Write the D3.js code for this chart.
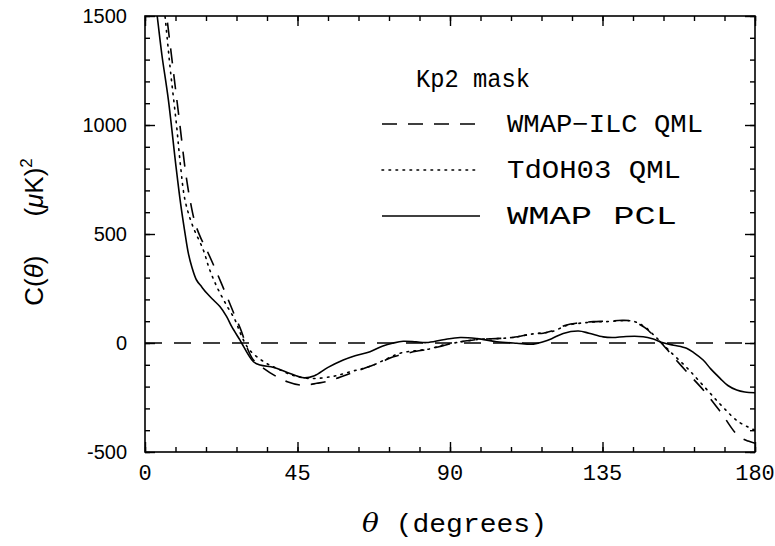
<!DOCTYPE html>
<html>
<head>
<meta charset="utf-8">
<title>C(theta) Kp2 mask</title>
<script src="https://cdn.jsdelivr.net/npm/d3@7"></script>
<style type="text/css">
	body { margin: 0; background: #fff; }
	.curve { fill: none; stroke: #000; stroke-width: 1.6px; stroke-linejoin: round; }
	.frame { fill: none; stroke: #000; stroke-width: 1.6px; }
	.tick line { stroke: #000; stroke-width: 1.4px; }
	.mono { font-family: "Liberation Mono", monospace; }
	.sans { font-family: "Liberation Sans", Arial, sans-serif; }
</style>
</head>
<body>
<script type="text/javascript">

var width = 775,
    height = 546;

// theta (deg) and C(theta) (muK^2)
var ilcTheta = [1, 4, 6.4, 8.5, 10.3, 12, 13.3, 14.8, 16.5, 18.2, 21, 24.6, 26.5, 28.5, 30, 32, 35, 38.9, 42, 45.7, 48, 50.7, 53.6, 57, 60.5, 63.4, 67.4, 70, 73.3, 75.2, 80, 84, 88, 91, 95, 98.8, 104.8, 108.7, 114.6, 117.5, 120, 124.4, 128, 132.3, 136, 141.1, 144, 146, 148, 150, 152, 155, 160, 165, 170, 175, 178, 180];
var ilcC     = [2300, 1800, 1500, 1230, 1000, 780, 656, 549, 480, 427, 330, 197, 125, 52, -17, -78, -116, -155, -178, -193, -192, -185, -177, -160, -140, -124, -101, -85, -63, -55, -38, -28, -12, 0, 10, 17, 21, 26, 42, 45, 55, 83, 92, 98, 100, 104, 100, 85, 65, 35, 6, -47, -135, -220, -320, -425, -450, -460];

var tdTheta = [1, 3.5, 5.9, 7.5, 9.3, 10.5, 11.8, 14, 17.2, 19, 21.2, 24, 26.6, 28, 29.5, 31, 33, 36, 38.9, 43, 47.7, 51, 54.6, 57, 60.5, 64, 67.4, 71, 75.2, 80, 84, 88, 92, 98.8, 104.8, 108.7, 114.6, 120, 124.4, 128, 132.3, 136, 141, 144, 146, 148, 150, 152, 155, 160, 165, 170, 175, 180];
var tdC     = [2200, 1850, 1500, 1250, 1000, 810, 656, 540, 427, 340, 258, 175, 105, 50, 0, -35, -63, -95, -116, -145, -162, -162, -155, -148, -132, -118, -101, -75, -47, -35, -27, -9, 2, 17, 21, 26, 42, 52, 80, 90, 96, 98, 102, 100, 88, 68, 38, 8, -40, -115, -200, -285, -360, -400];

var pclTheta = [1, 2, 3.6, 5, 6.9, 9.15, 10.5, 11.8, 12.8, 13.8, 15.2, 16.7, 18.2, 20.2, 22.1, 24.1, 25.6, 28, 28.5, 32, 34, 38, 42, 47, 50, 54, 58.5, 62, 66.4, 70, 73.3, 76.2, 80, 83.1, 88, 93, 98, 103.8, 109.7, 114.6, 117.5, 120, 123.4, 127.9, 131, 135.2, 138, 142, 147, 150, 152.9, 156, 159.8, 162, 164.7, 167, 169.7, 172, 174.6, 177, 180];
var pclC     = [1850, 1700, 1500, 1320, 1115, 809, 640, 504, 411, 350, 289, 258, 229, 197, 167, 121, 75, 14, 0, -86, -101, -112, -135, -160, -150, -112, -78, -58, -40, -15, 0, 8, 5, 2, 15, 25, 20, 6, -1, -5, 6, 20, 44, 55, 45, 28, 25, 30, 29, 18, 1, -10, -24, -45, -78, -120, -162, -195, -216, -225, -228];

var xMajor = [0, 45, 90, 135, 180];
var yMajor = [-500, 0, 500, 1000, 1500];

var legendTitle = "Kp2 mask";
var legendNames = ["WMAP\u2212ILC QML", "TdOH03 QML", "WMAP PCL"];
var legendDash = ["15,11", "1.6,5.4", null];

var series = [
	{ theta: ilcTheta, c: ilcC, dash: legendDash[0], cap: "butt" },
	{ theta: tdTheta, c: tdC, dash: legendDash[1], cap: "round" },
	{ theta: pclTheta, c: pclC, dash: legendDash[2], cap: "butt" }
];

var pL = 145, pR = 755, pT = 16, pB = 452;

var x = d3.scaleLinear().domain([0, 180]).range([pL, pR]);
var y = d3.scaleLinear().domain([-500, 1500]).range([pB, pT]);

var svg = d3.select("body").append("svg").attr("width", width).attr("height", height);

svg.append("defs").append("clipPath").attr("id", "plotclip")
	.append("rect").attr("x", pL).attr("y", pT).attr("width", pR - pL).attr("height", pB - pT);

// inward ticks on all four sides
var xMinor = d3.range(0, 181, 9);
var yMinor = d3.range(-500, 1501, 100);

function tickAxis(axisFn, scale, values, size) {
	return axisFn(scale).tickValues(values).tickSize(size).tickFormat("");
}

var axes = [
	{ fn: d3.axisBottom, s: x, t: "translate(0," + pB + ")" },
	{ fn: d3.axisTop, s: x, t: "translate(0," + pT + ")" },
	{ fn: d3.axisLeft, s: y, t: "translate(" + pL + ",0)" },
	{ fn: d3.axisRight, s: y, t: "translate(" + pR + ",0)" }
];
axes.forEach(function (a) {
	var isX = a.s === x;
	var g1 = svg.append("g").attr("transform", a.t)
		.call(tickAxis(a.fn, a.s, isX ? xMinor : yMinor, -5));
	var g2 = svg.append("g").attr("transform", a.t)
		.call(tickAxis(a.fn, a.s, isX ? xMajor : yMajor, -10));
	[g1, g2].forEach(function (g) { g.select(".domain").remove(); });
});

svg.append("rect").attr("class", "frame")
	.attr("x", pL).attr("y", pT).attr("width", pR - pL).attr("height", pB - pT);

// tick labels
svg.selectAll("text.xlab").data(xMajor).enter().append("text")
	.attr("class", "xlab mono")
	.attr("x", function (d) { return x(d); })
	.attr("y", pB + 28)
	.attr("text-anchor", "middle")
	.attr("font-size", "22px")
	.text(function (d) { return d; });

svg.selectAll("text.ylab").data(yMajor).enter().append("text")
	.attr("class", "ylab sans")
	.attr("x", pL - 18)
	.attr("y", function (d) { return y(d) + 7; })
	.attr("text-anchor", "end")
	.attr("font-size", "20px")
	.text(function (d) { return d; });

// zero line
svg.append("line")
	.attr("x1", x(0)).attr("x2", x(180))
	.attr("y1", y(0)).attr("y2", y(0))
	.attr("stroke", "#000").attr("stroke-width", 1.6)
	.attr("stroke-dasharray", "17,12");

var line = d3.line()
	.x(function (d) { return x(d[0]); })
	.y(function (d) { return y(d[1]); })
	.curve(d3.curveCatmullRom);

var plot = svg.append("g").attr("clip-path", "url(#plotclip)");
series.forEach(function (s) {
	var pts = s.theta.map(function (t, i) { return [t, s.c[i]]; });
	plot.append("path")
		.datum(pts)
		.attr("class", "curve")
		.attr("d", line)
		.attr("stroke-dasharray", s.dash)
		.attr("stroke-linecap", s.cap);
});

// legend
svg.append("text").attr("class", "mono")
	.attr("x", 416).attr("y", 87)
	.attr("font-size", "25px")
	.attr("textLength", 114)
	.attr("lengthAdjust", "spacingAndGlyphs")
	.text(legendTitle);

var legendY = [124, 170, 216];
var legendW = [196, 174, 170];
series.forEach(function (s, i) {
	svg.append("line")
		.attr("x1", 382).attr("x2", 480)
		.attr("y1", legendY[i]).attr("y2", legendY[i])
		.attr("stroke", "#000").attr("stroke-width", 1.6)
		.attr("stroke-dasharray", s.dash)
		.attr("stroke-linecap", s.cap);
	svg.append("text").attr("class", "mono")
		.attr("x", 507).attr("y", legendY[i] + 8)
		.attr("font-size", "25px")
		.attr("textLength", legendW[i])
		.attr("lengthAdjust", "spacingAndGlyphs")
		.text(legendNames[i]);
});

// axis titles
var xt = svg.append("text").attr("class", "mono")
	.attr("x", 362).attr("y", 532)
	.attr("font-size", "26px")
	.attr("textLength", 185)
	.attr("lengthAdjust", "spacingAndGlyphs");
xt.append("tspan").attr("font-style", "italic").attr("font-family", "DejaVu Serif, serif").text("\u03b8");
xt.append("tspan").text(" (degrees)");

var yt = svg.append("text").attr("class", "sans")
	.attr("transform", "translate(43,232) rotate(-90)")
	.attr("text-anchor", "middle")
	.attr("font-size", "26px");
yt.append("tspan").text("C(");
yt.append("tspan").attr("font-style", "italic").text("\u03b8");
yt.append("tspan").text(")\u2003\u2002(");
yt.append("tspan").attr("font-style", "italic").text("\u03bc");
yt.append("tspan").text("K)");
yt.append("tspan").attr("dy", -11).attr("font-size", "17px").text("2");

</script>
</body>
</html>
